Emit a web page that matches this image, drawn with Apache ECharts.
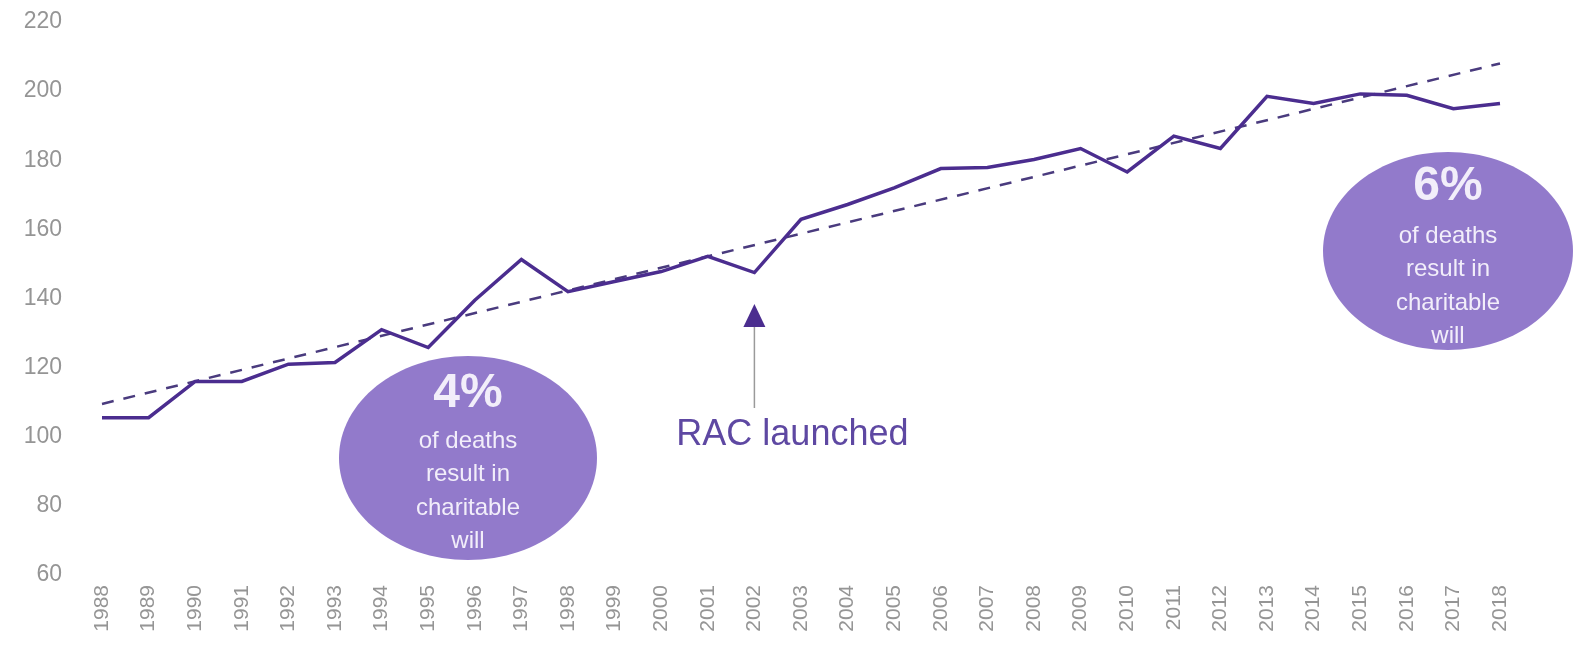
<!DOCTYPE html>
<html>
<head>
<meta charset="utf-8">
<script src="https://cdn.jsdelivr.net/npm/echarts@6/dist/echarts.min.js"></script>
<style>
  html, body { margin: 0; padding: 0; background: #ffffff; }
  #chart { width: 1575px; height: 647px; }
</style>
</head>
<body>
<div id="chart"></div>
<script>
// Years on the x axis
const years = ['1988','1989','1990','1991','1992','1993','1994','1995','1996','1997',
  '1998','1999','2000','2001','2002','2003','2004','2005','2006','2007','2008','2009',
  '2010','2011','2012','2013','2014','2015','2016','2017','2018'];

// Index values per year
const indexValues = [105.5, 105.5, 116, 116, 121, 121.5, 131, 125.8, 139.5, 151.3,
  142, 144.9, 147.8, 152.2, 147.5, 162.9, 167.2, 172, 177.6, 177.9, 180.2, 183.4,
  176.6, 187, 183.4, 198.5, 196.4, 199.2, 198.8, 194.9, 196.4];

// Linear trend: start and end values
const trendYears = ['1988', '2018'];
const trendValues = [109.5, 208];

// Y axis range and step
const yMin = 60, yMax = 220, yStep = 20;

// Annotations
const launchYear = '2002';
const launchLabel = 'RAC launched';
const bubbleLines = ['of deaths', 'result in', 'charitable', 'will'];
const bubbleStart = '4%';
const bubbleEnd = '6%';

const LINE = '#4b2d8f';
const BUBBLE = '#927acb';
const BUBBLE_TEXT = '#f2eefa';
const FONT = '"Liberation Sans", Arial, Helvetica, sans-serif';

const chart = echarts.init(document.getElementById('chart'));

const option = {
  backgroundColor: '#ffffff',
  animation: false,
  grid: { left: 102, right: 75, top: 22, bottom: 72, containLabel: false },
  xAxis: {
    type: 'category',
    data: years,
    boundaryGap: false,
    axisLine: { show: false },
    axisTick: { show: false },
    splitLine: { show: false },
    axisLabel: {
      rotate: 90,
      margin: 10,
      interval: 0,
      color: '#959595',
      fontSize: 21,
      fontFamily: FONT
    }
  },
  yAxis: {
    type: 'value',
    min: yMin,
    max: yMax,
    interval: yStep,
    axisLine: { show: false },
    axisTick: { show: false },
    splitLine: { show: false },
    axisLabel: {
      margin: 40,
      color: '#959595',
      fontSize: 23,
      fontFamily: FONT
    }
  },
  series: [
    {
      name: 'Trend',
      type: 'line',
      data: trendYears.map((y, i) => [y, trendValues[i]]),
      symbol: 'none',
      lineStyle: { color: '#4a3b7e', width: 2.5, type: [12, 10] },
      z: 2
    },
    {
      name: 'Index',
      type: 'line',
      data: indexValues,
      symbol: 'none',
      lineStyle: { color: LINE, width: 3.5, join: 'miter' },
      z: 3
    }
  ]
};

chart.setOption(option);

// Annotation layer: arrow at the launch year, and the two percentage bubbles
function bubble(cx, cy, rx, ry, big, bigY, firstY, step) {
  const children = [
    { type: 'ellipse', shape: { cx: cx, cy: cy, rx: rx, ry: ry }, style: { fill: BUBBLE } },
    {
      type: 'text', x: cx, y: bigY,
      style: { text: big, fill: BUBBLE_TEXT, font: 'bold 48px ' + FONT, align: 'center', verticalAlign: 'middle' }
    }
  ];
  bubbleLines.forEach((t, i) => {
    children.push({
      type: 'text', x: cx, y: firstY + i * step,
      style: { text: t, fill: BUBBLE_TEXT, font: '24px ' + FONT, align: 'center', verticalAlign: 'middle' }
    });
  });
  return { type: 'group', children: children, z: 10 };
}

const launchX = chart.convertToPixel({ xAxisIndex: 0 }, launchYear);

chart.setOption({
  graphic: [
    {
      type: 'line',
      shape: { x1: launchX, y1: 326, x2: launchX, y2: 408 },
      style: { stroke: '#9a9a9a', lineWidth: 1.5 },
      z: 10
    },
    {
      type: 'polygon',
      shape: { points: [[launchX, 304], [launchX - 11, 327], [launchX + 11, 327]] },
      style: { fill: LINE },
      z: 10
    },
    {
      type: 'text',
      x: launchX + 38, y: 435,
      style: { text: launchLabel, fill: '#5e48a2', font: '36px ' + FONT, align: 'center', verticalAlign: 'middle' },
      z: 10
    },
    bubble(468, 458, 129, 102, bubbleStart, 394, 441, 33.5),
    bubble(1448, 251, 125, 99, bubbleEnd, 187, 236, 33.5)
  ]
});
</script>
</body>
</html>
